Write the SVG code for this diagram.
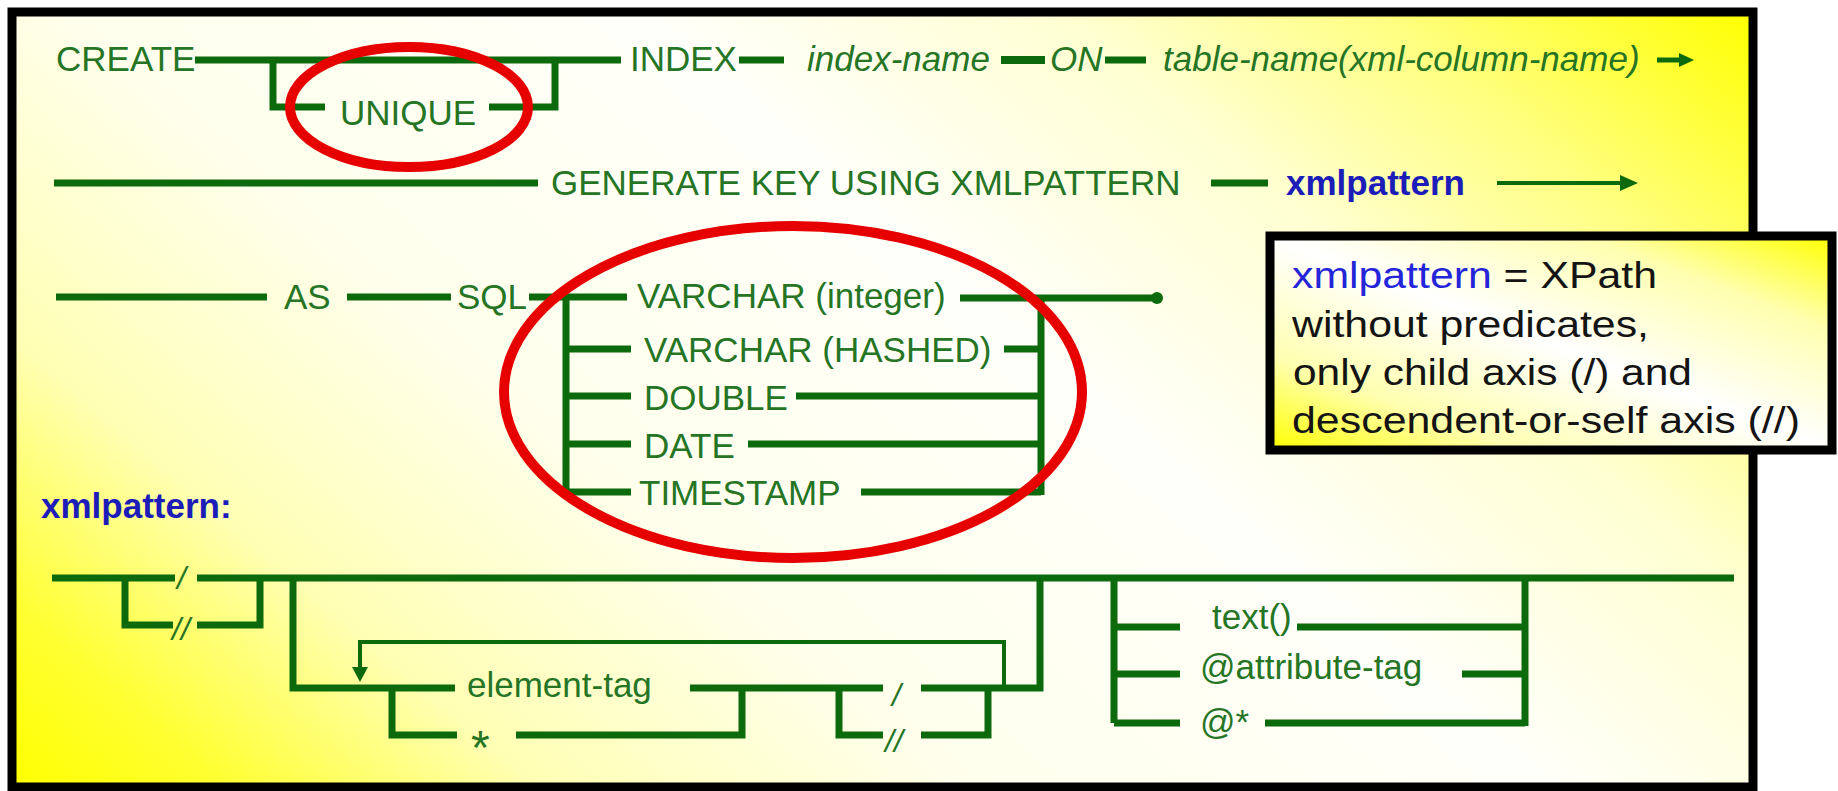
<svg xmlns="http://www.w3.org/2000/svg" width="1838" height="791" viewBox="0 0 1838 791">
  <defs>
    <!-- diagonal yellow/white wash of the main panel -->
    <linearGradient id="panelFill" gradientUnits="userSpaceOnUse" x1="323" y1="1054" x2="1441" y2="-254">
      <stop offset="0" stop-color="#ffff00"/>
      <stop offset="0.08" stop-color="#ffff30"/>
      <stop offset="0.2" stop-color="#ffffb4"/>
      <stop offset="0.36" stop-color="#ffffec"/>
      <stop offset="0.58" stop-color="#fffffa"/>
      <stop offset="0.74" stop-color="#ffffd2"/>
      <stop offset="0.86" stop-color="#ffff80"/>
      <stop offset="1" stop-color="#ffff00"/>
    </linearGradient>
    <linearGradient id="noteFill" x1="0" y1="1" x2="1" y2="0">
      <stop offset="0" stop-color="#ffff00"/>
      <stop offset="0.22" stop-color="#ffffb0"/>
      <stop offset="0.5" stop-color="#ffffff"/>
      <stop offset="0.78" stop-color="#ffffb0"/>
      <stop offset="1" stop-color="#ffff00"/>
    </linearGradient>
    <style>
      .ln { fill: none; stroke: #0c6a0c; stroke-width: 7; stroke-linejoin: miter; stroke-linecap: butt; }
      .thin { fill: none; stroke: #0c6a0c; stroke-width: 4; }
      .head { fill: #0c6a0c; }
      .t { font-family: "Liberation Sans", Arial, sans-serif; font-size: 35px; fill: #257525; }
      .it { font-style: italic; }
      .sl { font-family: "Liberation Sans", Arial, sans-serif; font-size: 32px; fill: #257525; font-style: italic; }
      .kw { font-family: "Liberation Sans", Arial, sans-serif; font-size: 35px; font-weight: bold; fill: #1c1cb8; }
      .note { font-family: "Liberation Sans", Arial, sans-serif; font-size: 37px; fill: #141414; }
      .ring { fill: none; stroke: #e60000; stroke-width: 10; }
    </style>
  </defs>

  <rect x="0" y="0" width="1838" height="791" fill="#ffffff"/>

  <!-- main panel -->
  <rect id="panel" x="12" y="12" width="1741" height="775" fill="url(#panelFill)" stroke="#000000" stroke-width="9"/>

  <!-- connectors of the railroad diagrams -->
  <g id="connectors">
    <!-- CREATE [UNIQUE] INDEX ... -->
    <path class="ln" d="M195 60 H621"/>
    <path class="ln" d="M273 60 V107 H325"/>
    <path class="ln" d="M489 107 H555 V60"/>
    <path class="ln" d="M739 60 H784"/>
    <path class="ln" d="M1001 60 H1045" style="stroke-width:8"/>
    <path class="ln" d="M1105 60 H1146"/>
    <path class="ln" d="M1657 60 H1682" style="stroke-width:5"/>
    <polygon class="head" points="1679,53 1694,60 1679,67"/>

    <!-- GENERATE KEY USING XMLPATTERN -->
    <path class="ln" d="M54 183 H538"/>
    <path class="ln" d="M1211 183 H1268"/>
    <path class="thin" d="M1497 183 H1624"/>
    <polygon class="head" points="1620,175 1638,183 1620,191"/>

    <!-- AS SQL type choice -->
    <path class="ln" d="M56 297 H267"/>
    <path class="ln" d="M347 297 H451"/>
    <path class="ln" d="M529 297 H627"/>
    <path class="ln" d="M566 297 V492"/>
    <path class="ln" d="M566 349 H631"/>
    <path class="ln" d="M566 396 H631"/>
    <path class="ln" d="M566 444 H631"/>
    <path class="ln" d="M566 492 H631"/>
    <path class="ln" d="M960 298 H1157"/>
    <circle class="head" cx="1157" cy="298" r="6"/>
    <path class="ln" d="M1041 297 V495"/>
    <path class="ln" d="M1004 349 H1041"/>
    <path class="ln" d="M796 396 H1041"/>
    <path class="ln" d="M748 444 H1041"/>
    <path class="ln" d="M861 492 H1041"/>

    <!-- xmlpattern -->
    <path class="ln" d="M52 578 H175"/>
    <path class="ln" d="M197 578 H1734"/>
    <path class="ln" d="M125 578 V625 H173"/>
    <path class="ln" d="M197 625 H260 V578"/>
    <path class="ln" d="M293 578 V688 H455"/>
    <path class="ln" d="M690 688 H883"/>
    <path class="ln" d="M921 688 H1040 V578"/>
    <path class="thin" d="M1004 688 V642 H360 V670"/>
    <polygon class="head" points="352,667 368,667 360,682"/>
    <path class="ln" d="M392 688 V735 H457"/>
    <path class="ln" d="M516 735 H742 V688"/>
    <path class="ln" d="M839 688 V735 H883"/>
    <path class="ln" d="M921 735 H988 V688"/>
    <path class="ln" d="M1114 578 V723"/>
    <path class="ln" d="M1114 627 H1180"/>
    <path class="ln" d="M1114 674 H1180"/>
    <path class="ln" d="M1114 723 H1180"/>
    <path class="ln" d="M1297 627 H1525"/>
    <path class="ln" d="M1462 674 H1525"/>
    <path class="ln" d="M1265 723 H1525"/>
    <path class="ln" d="M1525 578 V726"/>
  </g>

  <!-- keywords and operands -->
  <g id="create"><text class="t" x="56" y="71">CREATE</text></g>
  <g id="unique"><text class="t" x="340" y="125">UNIQUE</text></g>
  <g id="index"><text class="t" x="630" y="71">INDEX</text></g>
  <g id="index-name"><text class="t it" x="807" y="71">index-name</text></g>
  <g id="on"><text class="t it" x="1050" y="71">ON</text></g>
  <g id="table-name"><text class="t it" x="1163" y="71">table-name(xml-column-name)</text></g>

  <g id="generate"><text class="t" x="551" y="195">GENERATE KEY USING XMLPATTERN</text></g>
  <g id="xmlpattern-ref"><text class="kw" x="1286" y="195">xmlpattern</text></g>

  <g id="as"><text class="t" x="284" y="309">AS</text></g>
  <g id="sql"><text class="t" x="457" y="309">SQL</text></g>
  <g id="varchar-int"><text class="t" x="637" y="308">VARCHAR (integer)</text></g>
  <g id="varchar-hashed"><text class="t" x="644" y="362">VARCHAR (HASHED)</text></g>
  <g id="double"><text class="t" x="644" y="410">DOUBLE</text></g>
  <g id="date"><text class="t" x="644" y="458">DATE</text></g>
  <g id="timestamp"><text class="t" x="639" y="505">TIMESTAMP</text></g>

  <g id="xmlpattern-def"><text class="kw" x="41" y="518">xmlpattern:</text></g>
  <g id="child-1"><text class="sl" x="177" y="589">/</text></g>
  <g id="desc-1"><text class="sl" x="172" y="640">//</text></g>
  <g id="element-tag"><text class="t" x="467" y="697">element-tag</text></g>
  <g id="any-element"><text class="t" x="471" y="764" style="font-size:48px">*</text></g>
  <g id="child-2"><text class="sl" x="892" y="706">/</text></g>
  <g id="desc-2"><text class="sl" x="885" y="752">//</text></g>
  <g id="text-node"><text class="t" x="1212" y="629">text()</text></g>
  <g id="attribute-tag"><text class="t" x="1200" y="679">@attribute-tag</text></g>
  <g id="any-attribute"><text class="t" x="1200" y="734">@*</text></g>

  <!-- highlight rings -->
  <g id="rings">
    <ellipse class="ring" cx="409" cy="107" rx="119" ry="60"/>
    <ellipse class="ring" cx="793" cy="392" rx="289" ry="166"/>
  </g>

  <!-- note box -->
  <g id="note">
    <rect x="1270" y="236" width="562" height="214" fill="url(#noteFill)" stroke="#000000" stroke-width="9"/>
    <text class="note" x="1292" y="288" textLength="365" lengthAdjust="spacingAndGlyphs"><tspan fill="#2424d8">xmlpattern</tspan> = XPath</text>
    <text class="note" x="1292" y="337" textLength="357" lengthAdjust="spacingAndGlyphs">without predicates,</text>
    <text class="note" x="1293" y="385" textLength="399" lengthAdjust="spacingAndGlyphs">only child axis (/) and</text>
    <text class="note" x="1292" y="433" textLength="508" lengthAdjust="spacingAndGlyphs">descendent-or-self axis (//)</text>
  </g>
</svg>
